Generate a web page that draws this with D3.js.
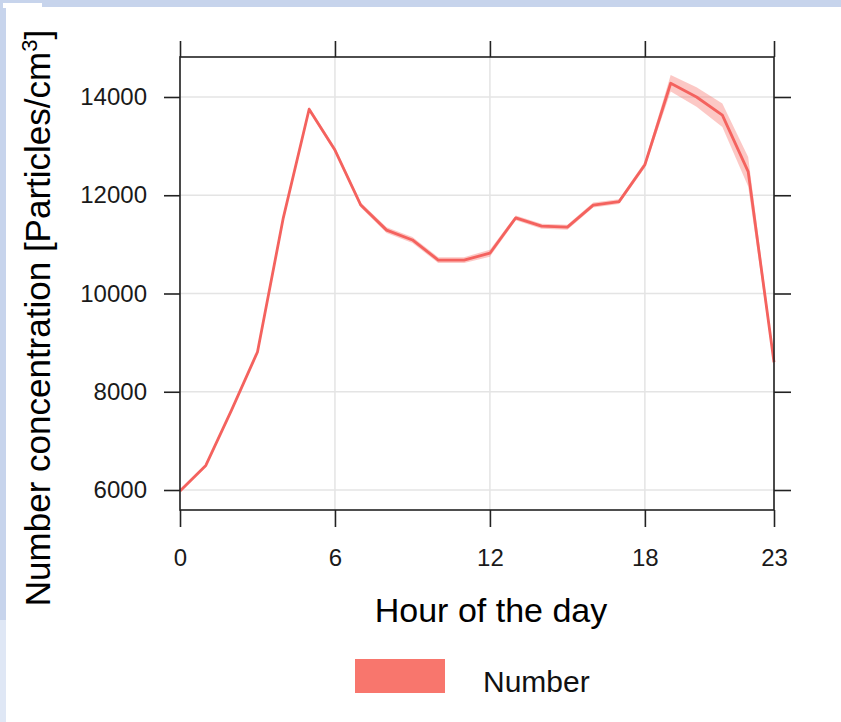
<!DOCTYPE html>
<html>
<head>
<meta charset="utf-8">
<script src="https://cdn.jsdelivr.net/npm/d3@7"></script>
<style>
  body { margin: 0; background: #fff; }
  text { font-family: Arial, "Liberation Sans", sans-serif; }
</style>
</head>
<body>
<script>
var width = 841,
    height = 722;

// hour of the day
var hours = [0, 1, 2, 3, 4, 5, 6, 7, 8, 9, 10, 11, 12, 13, 14, 15, 16, 17, 18, 19, 20, 21, 22, 23];

// mean number concentration and its confidence band
var numberMean = [5980, 6500, 7630, 8810, 11540, 13750, 12920, 11800, 11290, 11090, 10680, 10680,
                  10820, 11540, 11370, 11350, 11800, 11870, 12620, 14280, 14000, 13630, 12480, 8600];
var numberLower = [5950, 6470, 7600, 8780, 11500, 13700, 12870, 11750, 11230, 11030, 10620, 10620,
                   10750, 11490, 11320, 11300, 11750, 11820, 12560, 14110, 13800, 13390, 12180, 8520];
var numberUpper = [6010, 6530, 7660, 8840, 11580, 13800, 12970, 11850, 11350, 11150, 10740, 10740,
                   10890, 11590, 11420, 11400, 11850, 11920, 12680, 14450, 14200, 13870, 12780, 8680];

var xTicks = [0, 6, 12, 18, 23];
var yTicks = [6000, 8000, 10000, 12000, 14000];

var lineColor = "#f4625e",
    bandColor = "#f8766d";

var panel = { left: 180, right: 774, top: 57, bottom: 510 };

var svg = d3.select("body").append("svg")
    .attr("width", width)
    .attr("height", height);

// slide background
svg.append("rect").attr("width", width).attr("height", height).attr("fill", "#c7d4ec");
svg.append("rect").attr("x", 6).attr("y", 7).attr("width", width - 6).attr("height", height - 7).attr("fill", "#fff");
svg.append("rect").attr("x", 3).attr("y", 3).attr("width", 39).attr("height", 5).attr("fill", "#fff");
svg.append("rect").attr("x", 0).attr("y", 620).attr("width", 6).attr("height", 102).attr("fill", "#dfe7f5");

var x = d3.scaleLinear().domain([0, 23]).range([panel.left, panel.right]);
var y = d3.scaleLinear().domain([5593, 14814]).range([panel.bottom, panel.top]);

// grid
var grid = svg.append("g");
grid.selectAll(".gx").data(xTicks).enter().append("line")
    .attr("x1", function (d) { return x(d); }).attr("x2", function (d) { return x(d); })
    .attr("y1", panel.top).attr("y2", panel.bottom)
    .style("stroke", "#e4e4e4").style("stroke-width", 1.5);
grid.selectAll(".gy").data(yTicks).enter().append("line")
    .attr("x1", panel.left).attr("x2", panel.right)
    .attr("y1", function (d) { return y(d); }).attr("y2", function (d) { return y(d); })
    .style("stroke", "#e4e4e4").style("stroke-width", 1.5);

// confidence band + mean line
var band = d3.area()
    .x(function (d, i) { return x(hours[i]); })
    .y0(function (d, i) { return y(numberLower[i]); })
    .y1(function (d, i) { return y(numberUpper[i]); });

svg.append("path")
    .datum(numberMean)
    .attr("d", band)
    .attr("fill", bandColor)
    .attr("fill-opacity", 0.4);

var line = d3.line()
    .x(function (d, i) { return x(hours[i]); })
    .y(function (d) { return y(d); });

svg.append("path")
    .datum(numberMean)
    .attr("d", line)
    .attr("fill", "none")
    .style("stroke", lineColor)
    .style("stroke-width", 2.8)
    .style("stroke-linejoin", "round");

// axes on all four sides
function styleAxis(g) {
    g.select(".domain").remove();
    g.selectAll(".tick line").style("stroke", "#222").style("stroke-width", 1.6);
    g.selectAll(".tick text").style("font-size", "24px").attr("fill", "#1a1a1a");
}

svg.append("g")
    .attr("transform", "translate(0," + panel.bottom + ")")
    .call(d3.axisBottom(x).tickValues(xTicks).tickSize(17).tickPadding(22))
    .call(styleAxis);

svg.append("g")
    .attr("transform", "translate(0," + panel.top + ")")
    .call(d3.axisTop(x).tickValues(xTicks).tickSize(16).tickFormat(""))
    .call(styleAxis);

svg.append("g")
    .attr("transform", "translate(" + panel.left + ",0)")
    .call(d3.axisLeft(y).tickValues(yTicks).tickSize(16).tickPadding(17).tickFormat(d3.format("d")))
    .call(styleAxis);

svg.append("g")
    .attr("transform", "translate(" + panel.right + ",0)")
    .call(d3.axisRight(y).tickValues(yTicks).tickSize(17).tickFormat(""))
    .call(styleAxis);

// panel box
svg.append("rect")
    .attr("x", panel.left).attr("y", panel.top)
    .attr("width", panel.right - panel.left).attr("height", panel.bottom - panel.top)
    .attr("fill", "none")
    .style("stroke", "#222")
    .style("stroke-width", 1.6);

// axis titles
svg.append("text")
    .attr("x", 491)
    .attr("y", 622)
    .attr("text-anchor", "middle")
    .style("font-size", "34px")
    .text("Hour of the day");

var yTitle = svg.append("text")
    .attr("transform", "translate(50,318) rotate(-90)")
    .attr("text-anchor", "middle")
    .style("font-size", "35px");
yTitle.append("tspan").text("Number concentration [Particles/cm");
yTitle.append("tspan").attr("dy", -13).style("font-size", "22px").text("3");
yTitle.append("tspan").attr("dy", 13).text("]");

// legend
svg.append("rect")
    .attr("x", 355).attr("y", 659)
    .attr("width", 90).attr("height", 34)
    .attr("fill", bandColor);

svg.append("text")
    .attr("x", 483).attr("y", 692)
    .style("font-size", "30px")
    .attr("fill", "#111")
    .text("Number");
</script>
</body>
</html>
